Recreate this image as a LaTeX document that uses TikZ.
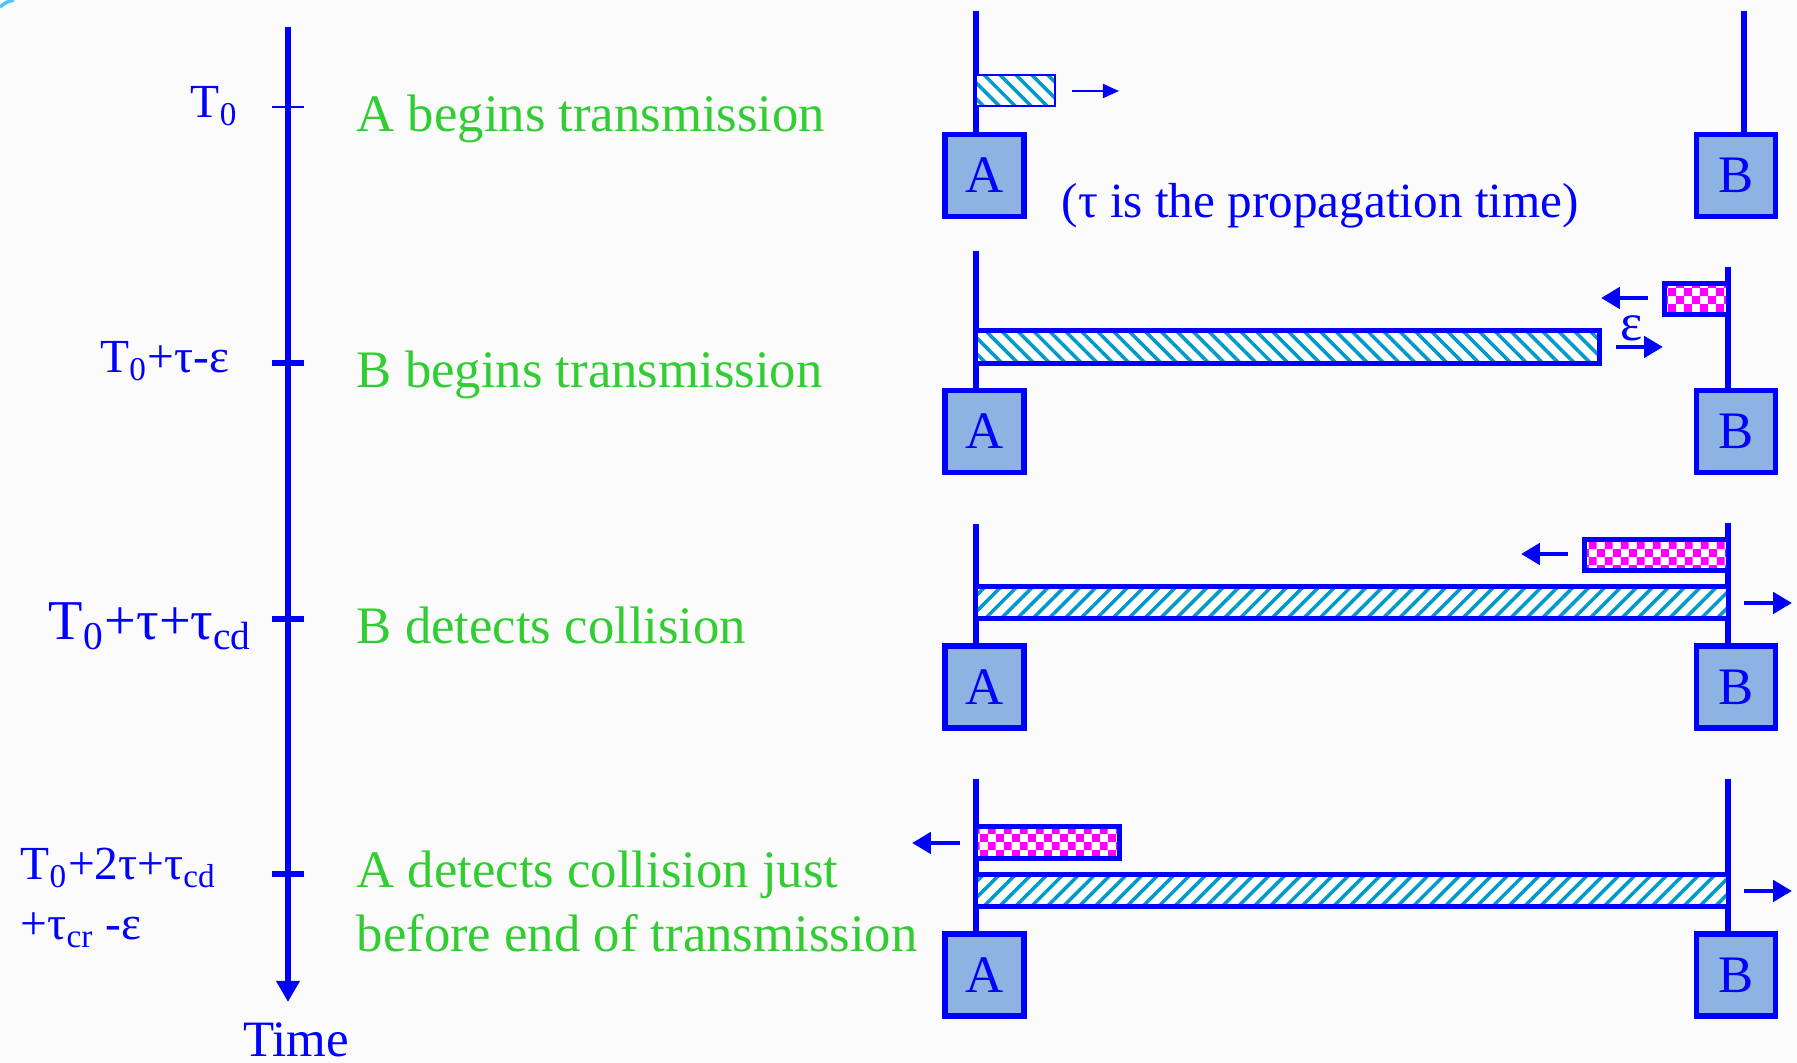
\documentclass[tikz,border=0pt]{standalone}
\usepackage{fontspec}
\setmainfont{Liberation Serif}
\usepackage{tikz}
\usetikzlibrary{arrows.meta,patterns.meta}
\definecolor{slideblue}{RGB}{0,0,255}
\definecolor{stationfill}{RGB}{141,179,226}
\definecolor{hatchcyan}{RGB}{0,153,204}
\definecolor{eventgreen}{RGB}{50,205,50}
\definecolor{slidebg}{RGB}{251,251,251}
% small magenta squares for the jam signal
\pgfdeclarepattern{
  name=finechecker,
  type=uncolored,
  bottom left={\pgfpoint{0pt}{0pt}},
  top right={\pgfpoint{4.5pt}{4.5pt}},
  tile size={\pgfpoint{4.5pt}{4.5pt}},
  code={
    \pgfpathrectangle{\pgfpointorigin}{\pgfpoint{2.25pt}{2.25pt}}
    \pgfpathrectangle{\pgfpoint{2.25pt}{2.25pt}}{\pgfpoint{2.25pt}{2.25pt}}
    \pgfusepath{fill}
  }
}
\tikzset{
  station/.style={draw=slideblue,fill=stationfill,line width=1.7pt,minimum width=0.79cm,minimum height=0.82cm,inner sep=0pt,text=slideblue,font=\fontsize{15}{18}\selectfont},
  wire/.style={slideblue,line width=1.7pt},
  sent/.style={draw=slideblue,line width=1.4pt,preaction={fill=white},pattern color=hatchcyan},
  back/.style={pattern={Lines[angle=-45,distance=3.2pt,line width=1pt]}},
  fwd/.style={pattern={Lines[angle=45,distance=3.2pt,line width=1pt]}},
  jam/.style={draw=slideblue,line width=1.4pt,preaction={fill=white},pattern=finechecker,pattern color=magenta},
  move/.style={slideblue,line width=1.3pt,-{Triangle[length=5.4pt,width=6pt]}},
  event/.style={anchor=base west,text=eventgreen,font=\fontsize{15}{18}\selectfont,inner sep=0pt},
  stamp/.style={text=slideblue,font=\fontsize{13.5}{16}\selectfont,inner sep=0pt},
}
\begin{document}
\begin{tikzpicture}
\fill[slidebg] (0,0) rectangle (17.97,-10.63);
\useasboundingbox (0,0) rectangle (17.97,-10.63);
\draw[cyan!70,line width=1pt] (0,-0.07) to[bend left=15] (0.14,0);

% time axis with its four instants
\coordinate (t-start) at (2.88,-0.27);
\coordinate (t-end) at (2.88,-10.02);
\draw[wire,-{Triangle[length=6pt,width=6.4pt]}] (t-start) -- (t-end);
\node[stamp,anchor=base,font=\fontsize{14.5}{17}\selectfont] (time) at (2.96,-10.57) {Time};
\coordinate (tk1) at (2.88,-1.07);
\coordinate (tk2) at (2.88,-3.63);
\coordinate (tk3) at (2.88,-6.19);
\coordinate (tk4) at (2.88,-8.74);
\draw[slideblue,line width=0.6pt] ([xshift=-0.16cm]tk1) -- ([xshift=0.16cm]tk1);
\draw[wire] ([xshift=-0.16cm]tk2) -- ([xshift=0.16cm]tk2);
\draw[wire] ([xshift=-0.16cm]tk3) -- ([xshift=0.16cm]tk3);
\draw[wire] ([xshift=-0.16cm]tk4) -- ([xshift=0.16cm]tk4);
\node[stamp,anchor=base east] (l1) at (2.39,-1.18) {T\textsubscript{0}};
\node[stamp,anchor=base east] (l2) at (2.30,-3.73) {T\textsubscript{0}+τ-ε};
\node[stamp,anchor=base east,font=\fontsize{16}{19}\selectfont] (l3) at (2.53,-6.40) {T\textsubscript{0}+τ+τ\textsubscript{cd}};
\node[stamp,anchor=base west] (l4) at (0.20,-8.80) {T\textsubscript{0}+2τ+τ\textsubscript{cd}};
\node[stamp,anchor=base west] (l4b) at (0.20,-9.40) {+τ\textsubscript{cr} -ε};

\node[event] (e1) at (3.56,-1.32) {A begins transmission};
\node[event] (e2) at (3.56,-3.88) {B begins transmission};
\node[event] (e3) at (3.56,-6.44) {B detects collision};
\node[event] (e4) at (3.56,-8.88) {A detects collision just};
\node[event] (e4b) at (3.56,-9.52) {before end of transmission};

% T0: A starts sending
\node[station] (A1) at (9.845,-1.755) {A};
\node[station] (B1) at (17.36,-1.755) {B};
\coordinate (a1) at (9.76,-0.11);
\coordinate (b1) at (17.44,-0.11);
\draw[wire] (a1) -- (a1 |- A1.north);
\draw[wire] (b1) -- (b1 |- B1.north);
\draw[sent,back,line width=0.6pt] (9.76,-0.75) rectangle (10.55,-1.06);
\draw[slideblue,line width=0.6pt,-{Triangle[length=4.6pt,width=4pt]}] (10.72,-0.91) -- (11.19,-0.91);
\node[stamp,anchor=base west,font=\fontsize{14}{17}\selectfont] (note) at (10.61,-2.18) {(τ is the propagation time)};

% T0+tau-eps: B starts too
\node[station] (A2) at (9.845,-4.315) {A};
\node[station] (B2) at (17.36,-4.315) {B};
\coordinate (a2) at (9.76,-2.51);
\coordinate (b2) at (17.28,-2.67);
\draw[wire] (a2) -- (a2 |- A2.north);
\draw[wire] (b2) -- (b2 |- B2.north);
\draw[sent,back] (9.76,-3.305) rectangle (15.995,-3.635);
\draw[jam] (16.645,-2.835) rectangle (17.28,-3.145);
\draw[move] (16.48,-2.98) -- (16.01,-2.98);
\draw[move] (16.16,-3.47) -- (16.63,-3.47);
\node[stamp,font=\fontsize{15}{18}\selectfont] (eps) at (16.32,-3.28) {ε};

% B sees the collision
\node[station] (A3) at (9.845,-6.87) {A};
\node[station] (B3) at (17.36,-6.87) {B};
\coordinate (a3) at (9.76,-5.24);
\coordinate (b3) at (17.28,-5.23);
\draw[wire] (a3) -- (a3 |- A3.north);
\draw[wire] (b3) -- (b3 |- B3.north);
\draw[jam] (15.845,-5.395) rectangle (17.28,-5.705);
\draw[sent,fwd] (9.76,-5.865) rectangle (17.28,-6.185);
\draw[move] (15.68,-5.54) -- (15.21,-5.54);
\draw[move] (17.44,-6.03) -- (17.92,-6.03);

% A sees it just in time
\node[station] (A4) at (9.845,-9.75) {A};
\node[station] (B4) at (17.36,-9.75) {B};
\coordinate (a4) at (9.76,-7.79);
\coordinate (b4) at (17.28,-7.79);
\draw[wire] (a4) -- (a4 |- A4.north);
\draw[wire] (b4) -- (b4 |- B4.north);
\draw[jam] (9.76,-8.265) rectangle (11.195,-8.585);
\draw[sent,fwd] (9.76,-8.745) rectangle (17.28,-9.065);
\draw[move] (9.60,-8.43) -- (9.12,-8.43);
\draw[move] (17.44,-8.91) -- (17.92,-8.91);
\end{tikzpicture}
\end{document}
